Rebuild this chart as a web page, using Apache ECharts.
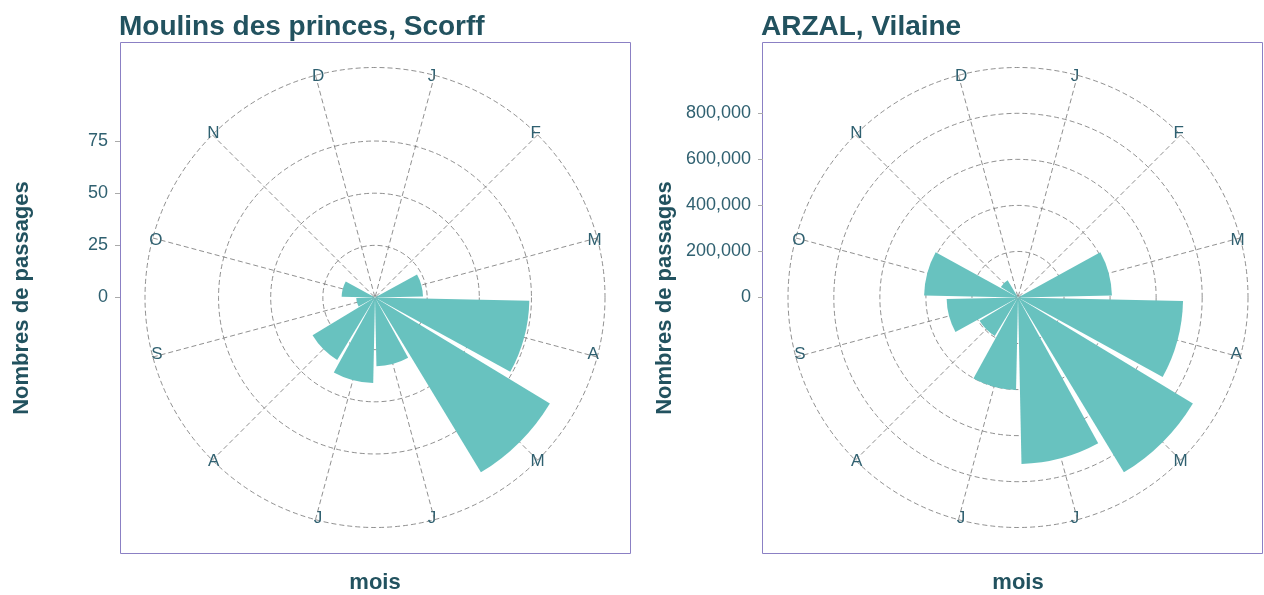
<!DOCTYPE html>
<html>
<head>
<meta charset="utf-8">
<script src="https://cdn.jsdelivr.net/npm/echarts@6/dist/echarts.min.js"></script>
<style>
  html, body { margin: 0; padding: 0; background: #fff; }
  #main { width: 1264px; height: 595px; }
</style>
</head>
<body>
<div id="main"></div>
<script>
// mois (initiales) et passages mensuels
var months = ['J', 'F', 'M', 'A', 'M', 'J', 'J', 'A', 'S', 'O', 'N', 'D'];
var scorffValues = [0, 0, 23, 74, 98, 33, 41, 35, 9, 16, 0, 0];
var arzalValues = [0, 0, 408000, 717000, 888000, 723000, 402000, 195000, 310000, 408000, 87000, 0];
var panelTitles = ['Moulins des princes, Scorff', 'ARZAL, Vilaine'];
var yIntervals = [25, 200000];

var app = echarts.init(document.getElementById('main'));

var font = 'Liberation Sans, Arial, sans-serif';
var titleColor = '#22525f';
var textColor = '#2f6070';
var gridColor = '#737373';
var barColor = '#68c2bf';
var borderColor = '#8b80c4';

var centers = [[375, 297.5], [1018, 297.5]];
var outerR = 230;            // cercle extérieur (0.45 chez ggplot)
var dataR = outerR / 1.125;  // rayon du max des données (0.4)
var allValues = [scorffValues, arzalValues];

function fmt(v) {
    return echarts.format.addCommas(v);
}

var polar = [], angleAxis = [], radiusAxis = [], series = [];
var grid = [], xAxis = [], yAxis = [];

for (var p = 0; p < 2; p++) {
    var vals = allValues[p];
    var rmax = Math.max.apply(null, vals);
    var rtop = rmax * 1.125;
    var step = yIntervals[p];

    // couleurs des cercles : on cache ceux qui dépassent le max des données
    var circleColors = [];
    for (var v = 0; v < rtop; v += step) {
        circleColors.push(v <= rmax ? gridColor : 'rgba(0,0,0,0)');
    }
    circleColors.push(gridColor);

    // polaire des données : secteurs centrés sur les mois
    polar.push({center: centers[p], radius: outerR});
    angleAxis.push({
        polarIndex: 2 * p,
        type: 'category',
        data: months,
        boundaryGap: true,
        startAngle: 90,
        clockwise: true,
        axisLine: {show: false},
        axisTick: {show: false},
        axisLabel: {interval: 0, margin: -10, color: textColor, fontSize: 17, fontFamily: font},
        splitLine: {show: false}
    });
    radiusAxis.push({
        polarIndex: 2 * p,
        type: 'value',
        min: 0,
        max: rtop,
        interval: step,
        axisLine: {show: false},
        axisTick: {show: false},
        axisLabel: {show: false},
        splitLine: {show: true, lineStyle: {color: circleColors, width: 0.8, type: [5, 3]}}
    });

    // polaire des rayons : un rayon au milieu de chaque mois
    polar.push({center: centers[p], radius: outerR});
    angleAxis.push({
        polarIndex: 2 * p + 1,
        type: 'value',
        min: 0,
        max: 12,
        interval: 1,
        startAngle: 75,
        clockwise: true,
        axisLine: {show: false},
        axisTick: {show: false},
        axisLabel: {show: false},
        splitLine: {show: true, lineStyle: {color: gridColor, width: 0.8, type: [5, 3]}}
    });
    radiusAxis.push({
        polarIndex: 2 * p + 1,
        type: 'value',
        min: 0,
        max: 1,
        axisLine: {show: false},
        axisTick: {show: false},
        axisLabel: {show: false},
        splitLine: {show: false}
    });

    series.push({
        type: 'bar',
        coordinateSystem: 'polar',
        polarIndex: 2 * p,
        data: vals,
        barCategoryGap: '8%',
        itemStyle: {color: barColor},
        silent: true
    });

    // axe y à gauche du panneau (graduations 0 .. dernier multiple)
    var ytop = Math.floor(rmax / step) * step;
    var k = dataR / rmax;
    grid.push({
        left: centers[p][0] - 255,
        width: 20,
        top: centers[p][1] - ytop * k,
        height: ytop * k
    });
    xAxis.push({gridIndex: p, type: 'value', show: false});
    yAxis.push({
        gridIndex: p,
        type: 'value',
        min: 0,
        max: ytop,
        interval: step,
        axisLine: {show: false},
        axisTick: {show: true, length: 5, lineStyle: {color: '#aaaaaa'}},
        axisLabel: {margin: 12, color: textColor, fontSize: 18, fontFamily: font, formatter: fmt},
        splitLine: {show: false}
    });
}

var graphics = [];
var panelBoxes = [[120, 42, 510, 511], [762, 42, 500, 511]];
for (var i = 0; i < 2; i++) {
    var b = panelBoxes[i];
    graphics.push({
        type: 'rect', z: -1, silent: true,
        shape: {x: b[0] + 0.5, y: b[1] + 0.5, width: b[2], height: b[3]},
        style: {fill: 'none', stroke: borderColor, lineWidth: 1}
    });
    graphics.push({
        type: 'text',
        x: centers[i][0] - 353, y: 298,
        rotation: Math.PI / 2,
        style: {text: 'Nombres de passages', fill: titleColor, font: 'bold 22px ' + font,
                textAlign: 'center', textVerticalAlign: 'middle'}
    });
    graphics.push({
        type: 'text',
        x: centers[i][0], y: 583,
        style: {text: 'mois', fill: titleColor, font: 'bold 22px ' + font,
                textAlign: 'center', textVerticalAlign: 'middle'}
    });
    graphics.push({
        type: 'text',
        x: b[0] - 1, y: 27,
        style: {text: panelTitles[i], fill: titleColor, font: 'bold 28px ' + font,
                textAlign: 'left', textVerticalAlign: 'middle'}
    });
}

option = {
    animation: false,
    backgroundColor: '#ffffff',
    polar: polar,
    angleAxis: angleAxis,
    radiusAxis: radiusAxis,
    grid: grid,
    xAxis: xAxis,
    yAxis: yAxis,
    series: series,
    graphic: graphics
};
app.setOption(option);
</script>
</body>
</html>
